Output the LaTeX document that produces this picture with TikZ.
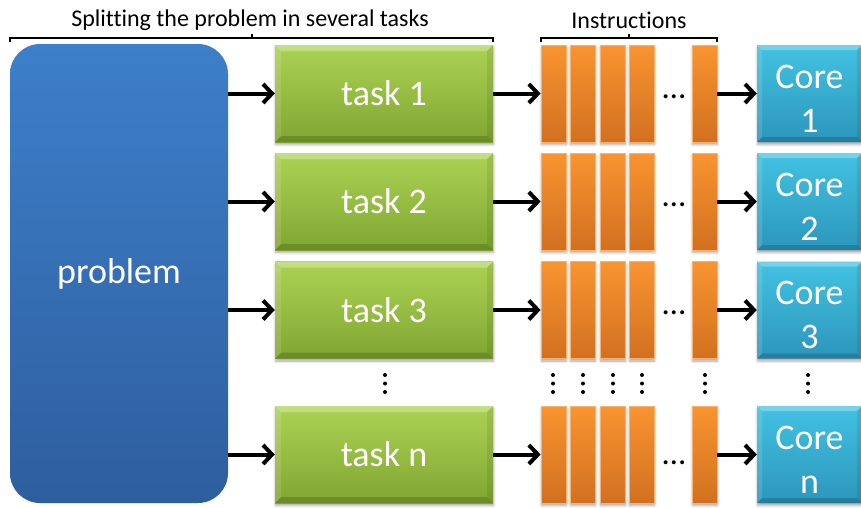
\documentclass[tikz,border=0pt]{standalone}
\usepackage{fontspec}
\setmainfont{Carlito}[Ligatures=NoCommon]
\usetikzlibrary{arrows.meta,shapes.misc,shadows.blur}

\definecolor{probtop}{RGB}{61,127,202}
\definecolor{probbot}{RGB}{46,94,158}
\definecolor{tasktop}{RGB}{172,210,84}
\definecolor{taskbot}{RGB}{128,166,50}
\definecolor{bartop}{RGB}{249,148,48}
\definecolor{barbot}{RGB}{210,112,32}
\definecolor{barrim}{RGB}{250,178,112}
\definecolor{coretop}{RGB}{66,194,226}
\definecolor{corebot}{RGB}{44,150,188}

\tikzset{
  bevel/.style={path picture={
    \coordinate (pnw) at (path picture bounding box.north west);
    \coordinate (pne) at (path picture bounding box.north east);
    \coordinate (psw) at (path picture bounding box.south west);
    \coordinate (pse) at (path picture bounding box.south east);
    \fill[white,opacity=.28] (pnw) -- (pne) -- ([xshift=-#1,yshift=-#1]pne) -- ([xshift=#1,yshift=-#1]pnw) -- cycle;
    \fill[white,opacity=.12] (pnw) -- ([xshift=#1,yshift=-#1]pnw) -- ([xshift=#1,yshift=#1]psw) -- (psw) -- cycle;
    \fill[black,opacity=.16] (psw) -- ([xshift=#1,yshift=#1]psw) -- ([xshift=-#1,yshift=#1]pse) -- (pse) -- cycle;
    \fill[black,opacity=.08] (pse) -- ([xshift=-#1,yshift=#1]pse) -- ([xshift=-#1,yshift=-#1]pne) -- (pne) -- cycle;
  }},
  softshadow/.style={blur shadow={shadow xshift=0.5pt,shadow yshift=-2.5pt,shadow blur radius=2.5pt,shadow opacity=35}},
  probbox/.style={rounded corners=30pt, minimum width=218pt, minimum height=459pt, inner sep=0pt,
    top color=probtop, bottom color=probbot, text=white, font=\fontsize{36}{43}\selectfont},
  taskbox/.style={softshadow, minimum width=218pt, minimum height=97pt, inner sep=0pt,
    top color=tasktop, bottom color=taskbot, bevel=6pt, text=white, font=\fontsize{36}{43}\selectfont},
  instr/.style={softshadow, minimum width=25pt, minimum height=97pt, inner sep=0pt,
    top color=bartop, bottom color=barbot, draw=barrim, line width=0.8pt},
  corebox/.style={softshadow, chamfered rectangle, chamfered rectangle corners=north east,
    chamfered rectangle xsep=11pt, chamfered rectangle angle=45,
    minimum width=105pt, minimum height=97pt, inner sep=0pt,
    top color=coretop, bottom color=corebot, bevel=5pt},
  coretext/.style={text=white, align=center, inner sep=0pt, yshift=-5pt,
    font=\fontsize{36}{44}\selectfont},
  arr/.style={line width=4pt, -{Straight Barb[length=9pt,width=19pt]}},
  brk/.style={line width=1.2pt},
  hdots/.style={font=\fontsize{33}{33}\selectfont, inner sep=0pt, anchor=base},
  vdot/.style={fill=black},
  caption/.style={font=\fontsize{24}{28}\selectfont, inner sep=0pt}
}

\begin{document}
\begin{tikzpicture}[x=1pt,y=-1pt]
  \useasboundingbox (0,0) rectangle (861,507);

  % headings and their braces
  \node[caption] (lsplit) at (250,20) {Splitting the problem in several tasks};
  \node[caption] (linstr) at (629,20) {Instructions};
  \draw[brk] (10,42) -- (10,38) -- (493,38) -- (493,42);
  \draw[brk] (252,38) -- (252,34);
  \draw[brk] (541,42) -- (541,38) -- (717,38) -- (717,42);
  \draw[brk] (629,38) -- (629,34);

  % the whole problem
  \node[probbox] (prob) at (119,273.5) {problem};

  % one row per task: task, instruction stream, core
  \foreach \r/\y/\dy in {1/93.5/98, 2/201.5/206, 3/310/314, n/454.5/464} {
    \node[taskbox] (t\r) at (384,\y) {task \r};
    \foreach \k/\x in {a/553.5, b/582.5, c/612.5, d/641.5, e/704.5}
      \node[instr] (b\r\k) at (\x,\y) {};
    \node[hdots] (dots\r) at (674,\dy) {…};
    \node[corebox, label={[coretext]center:Core\\\r}] (c\r) at (809.5,\y) {};
    \draw[arr] (prob.east |- t\r.west) -- (t\r.west);
    \draw[arr] (t\r.east) -- (b\r a.west);
    \draw[arr] (b\r e.east) -- (c\r.west);
  }

  % vertical ellipses between row 3 and row n
  \foreach \x in {385, 553, 583, 613, 642, 705, 808}
    \foreach \yy in {375, 383.5, 392}
      \fill[vdot] (\x,\yy) circle (2pt);
\end{tikzpicture}
\end{document}
